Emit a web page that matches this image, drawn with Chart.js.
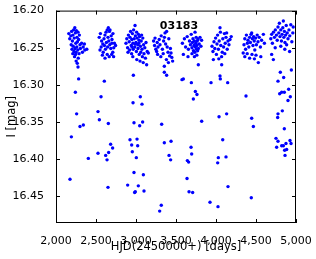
<!DOCTYPE html>
<html lang="en">
<head>
    <meta charset="UTF-8">
    <title>03183 light curve</title>
    <script src="https://cdn.jsdelivr.net/npm/chart.js"></script>
    <style>
        body { margin: 0; background: #fff; }
        #wrap { width: 316px; height: 259px; }
    </style>
</head>
<body>
    <div id="wrap"><canvas id="lc" width="316" height="259"></canvas></div>

    <script>
        const starName = '03183';

        // HJD - 2450000 [days]
        const hjd = [
            // season 1
            2160, 2172, 2185, 2195, 2205, 2212, 2220, 2228, 2235, 2242, 2248, 2255, 2262, 2268, 2275, 2283, 2292, 2300,
            2190, 2200, 2215, 2225, 2238, 2250, 2260, 2272, 2288, 2305, 2320, 2340, 2360, 2385, 2210, 2232, 2245, 2278,
            2252, 2266, 2275, 2330, 2355,
            // season 2
            2540, 2555, 2570, 2585, 2600, 2612, 2625, 2640, 2654, 2668, 2675, 2690, 2700, 2712, 2730, 2745,
            2550, 2565, 2590, 2605, 2618, 2630, 2645, 2660, 2672, 2685, 2698, 2710, 2722, 2613, 2640, 2665, 2696, 2720,
            2580, 2650,
            // season 3
            2875, 2885, 2895, 2905, 2915, 2925, 2932, 2940, 2948, 2955, 2962, 2970, 2978, 2988, 2992, 3000, 3008, 3015,
            3022, 3030, 3038, 3045, 3055, 3065, 3075, 3085, 3095, 3110, 3125, 3140, 3154, 2900, 2920, 2945, 2965, 2985,
            3005, 3025, 3040, 3060, 3080, 3100, 3118, 3133, 2960, 3010, 3050, 3090, 2990, 3035, 2950, 3070,
            // season 4
            3220, 3232, 3238, 3248, 3258, 3265, 3275, 3290, 3300, 3315, 3330, 3345, 3355, 3363, 3370, 3383, 3390, 3400,
            3410, 3420, 3430, 3438, 3448, 3458, 3270, 3310, 3340, 3354, 3380, 3405,
            // season 5
            3580, 3592, 3605, 3620, 3640, 3655, 3668, 3680, 3690, 3700, 3705, 3712, 3718, 3725, 3730, 3735, 3738, 3742,
            3748, 3752, 3755, 3760, 3765, 3770, 3775, 3780, 3790, 3800, 3812, 3820, 3779, 3730, 3700, 3760, 3650,
            // season 6
            3950, 3962, 3967, 3975, 3985, 3995, 4005, 4012, 4020, 4030, 4040, 4050, 4055, 4060, 4071, 4078, 4085, 4095,
            4105, 4115, 4125, 4133, 4140, 4150, 4162, 4175, 4190, 4070, 4035, 4110,
            // season 7
            4340, 4350, 4360, 4370, 4380, 4392, 4400, 4410, 4420, 4430, 4438, 4446, 4455, 4462, 4470, 4478, 4485, 4495,
            4505, 4515, 4525, 4540, 4555, 4570, 4592, 4605, 4360, 4390, 4420, 4450, 4480, 4529, 4560, 4500,
            // season 8
            4685, 4696, 4705, 4718, 4730, 4742, 4755, 4765, 4775, 4785, 4792, 4800, 4810, 4818, 4826, 4835, 4842, 4848,
            4855, 4862, 4870, 4878, 4883, 4890, 4900, 4912, 4922, 4935, 4948, 4960, 4696, 4717, 4860, 4920, 4740, 4810,
            4965,
            // faint points
            2283, 2604, 2967, 3354, 3383, 2242, 2563, 3054, 2963, 3075, 2258, 2525, 2542, 2654, 2342, 2300, 2975, 3083,
            3046, 3321, 2192, 2925, 3013, 2683, 2946, 3021, 2708, 3354, 3438, 2658, 2954, 2621, 2525, 2404, 3004, 2638,
            3413, 3433, 2175, 2975, 3092, 2650, 2896, 3029, 3100, 2991, 2983, 3316, 3296,
            3575, 3592, 3692, 3938, 4050, 4054, 4146, 4804, 4846, 4775, 4942, 3742, 3762, 3717, 4375, 4796, 4821, 4854,
            4908, 4929, 4900, 4038, 4133, 3821, 4446, 4467, 4829, 4775, 4771, 4854, 4084, 3688, 3696, 4750, 4775, 4758,
            4821, 4842, 4875, 4925, 4938, 4858, 4883, 4863, 3642, 3658, 4029, 4125, 4021, 3638, 4150, 3663, 3708, 4441,
            3925, 4025
        ];

        // I magnitude
        const imag = [
            // season 1
            16.231, 16.238, 16.234, 16.228, 16.241, 16.233, 16.226, 16.237, 16.223, 16.230, 16.244, 16.227, 16.236, 16.242, 16.229, 16.239, 16.233, 16.246,
            16.246, 16.252, 16.248, 16.255, 16.251, 16.256, 16.249, 16.253, 16.258, 16.251, 16.244, 16.249, 16.253, 16.252, 16.258, 16.262, 16.259, 16.264,
            16.268, 16.271, 16.276, 16.256, 16.245,
            // season 2
            16.236, 16.231, 16.241, 16.245, 16.238, 16.233, 16.229, 16.226, 16.223, 16.228, 16.226, 16.234, 16.239, 16.231, 16.244, 16.247,
            16.253, 16.249, 16.256, 16.247, 16.252, 16.243, 16.249, 16.241, 16.246, 16.251, 16.244, 16.256, 16.250, 16.264, 16.259, 16.262, 16.259, 16.262,
            16.260, 16.236,
            // season 3
            16.244, 16.238, 16.250, 16.233, 16.242, 16.236, 16.228, 16.247, 16.239, 16.231, 16.244, 16.226, 16.238, 16.220, 16.234, 16.243, 16.229, 16.237,
            16.246, 16.232, 16.240, 16.235, 16.248, 16.241, 16.252, 16.237, 16.246, 16.250, 16.243, 16.255, 16.257, 16.256, 16.253, 16.258, 16.252, 16.249,
            16.255, 16.251, 16.259, 16.256, 16.262, 16.258, 16.264, 16.273, 16.262, 16.266, 16.268, 16.270, 16.245, 16.244, 16.249, 16.233,
            // season 4
            16.241, 16.247, 16.237, 16.252, 16.255, 16.243, 16.249, 16.239, 16.246, 16.234, 16.252, 16.241, 16.236, 16.230, 16.245, 16.228, 16.249, 16.256,
            16.238, 16.261, 16.251, 16.257, 16.263, 16.268, 16.259, 16.262, 16.258, 16.275, 16.266, 16.270,
            // season 5
            16.244, 16.259, 16.238, 16.249, 16.235, 16.252, 16.241, 16.246, 16.232, 16.250, 16.243, 16.238, 16.254, 16.247, 16.241, 16.256, 16.229, 16.249,
            16.244, 16.236, 16.252, 16.247, 16.241, 16.254, 16.239, 16.251, 16.245, 16.236, 16.248, 16.240, 16.273, 16.262, 16.258, 16.260, 16.262,
            // season 6
            16.248, 16.255, 16.266, 16.242, 16.251, 16.237, 16.259, 16.245, 16.233, 16.252, 16.241, 16.223, 16.229, 16.247, 16.273, 16.256, 16.238, 16.249,
            16.231, 16.244, 16.236, 16.230, 16.252, 16.241, 16.246, 16.239, 16.235, 16.262, 16.265, 16.258,
            // season 7
            16.257, 16.246, 16.238, 16.252, 16.233, 16.244, 16.240, 16.249, 16.236, 16.243, 16.232, 16.230, 16.238, 16.247, 16.235, 16.241, 16.253, 16.237,
            16.246, 16.233, 16.242, 16.236, 16.249, 16.240, 16.232, 16.244, 16.262, 16.258, 16.264, 16.259, 16.265, 16.270, 16.262, 16.260,
            // season 8
            16.238, 16.232, 16.244, 16.229, 16.236, 16.226, 16.233, 16.240, 16.222, 16.230, 16.217, 16.235, 16.226, 16.241, 16.232, 16.223, 16.214, 16.236,
            16.228, 16.243, 16.233, 16.220, 16.246, 16.230, 16.238, 16.226, 16.234, 16.219, 16.242, 16.230, 16.259, 16.266, 16.252, 16.255, 16.250, 16.248,
            16.222,
            // faint points
            16.292, 16.295, 16.287, 16.283, 16.287, 16.310, 16.316, 16.316, 16.324, 16.326, 16.339, 16.336, 16.347, 16.352, 16.354, 16.356, 16.351, 16.350,
            16.355, 16.353, 16.370, 16.374, 16.373, 16.380, 16.381, 16.382, 16.385, 16.378, 16.376, 16.391, 16.390, 16.395, 16.392, 16.399, 16.398, 16.401,
            16.395, 16.401, 16.427, 16.418, 16.421, 16.438, 16.435, 16.436, 16.443, 16.444, 16.445, 16.462, 16.470,
            16.293, 16.292, 16.297, 16.297, 16.288, 16.292, 16.297, 16.283, 16.290, 16.295, 16.280, 16.309, 16.313, 16.319, 16.315, 16.312, 16.310, 16.310,
            16.306, 16.316, 16.321, 16.343, 16.339, 16.349, 16.345, 16.356, 16.335, 16.339, 16.344, 16.359, 16.374, 16.384, 16.393, 16.372, 16.376, 16.384,
            16.382, 16.382, 16.379, 16.375, 16.379, 16.388, 16.387, 16.395, 16.402, 16.404, 16.398, 16.397, 16.405, 16.426, 16.437, 16.444, 16.445, 16.452,
            16.458, 16.464
        ];

        const xTicks = [2000, 2500, 3000, 3500, 4000, 4500, 5000];
        const yTicks = [16.20, 16.25, 16.30, 16.35, 16.40, 16.45];

        Chart.defaults.font.family = '"DejaVu Sans", sans-serif';
        Chart.defaults.font.size = 11;
        Chart.defaults.color = '#000';

        // box around the plot + inward ticks on all sides + star id
        const framePlugin = {
            id: 'frame',
            afterDatasetsDraw(chart) {
                const { ctx, chartArea: a, scales: { x, y } } = chart;
                ctx.save();
                ctx.strokeStyle = '#000';
                ctx.lineWidth = 1;
                ctx.strokeRect(a.left + 0.5, a.top + 0.5, a.right - a.left - 1, a.bottom - a.top - 1);
                ctx.beginPath();
                xTicks.forEach(v => {
                    const px = Math.round(x.getPixelForValue(v)) + 0.5;
                    ctx.moveTo(px, a.bottom); ctx.lineTo(px, a.bottom - 4);
                    ctx.moveTo(px, a.top); ctx.lineTo(px, a.top + 4);
                });
                yTicks.forEach(v => {
                    const py = Math.round(y.getPixelForValue(v)) + 0.5;
                    ctx.moveTo(a.left, py); ctx.lineTo(a.left + 4, py);
                    ctx.moveTo(a.right, py); ctx.lineTo(a.right - 4, py);
                });
                ctx.stroke();
                ctx.fillStyle = '#000';
                ctx.font = 'bold 11px "DejaVu Sans", sans-serif';
                ctx.textAlign = 'center';
                ctx.textBaseline = 'middle';
                ctx.fillText(starName, (a.left + a.right) / 2 + 3, a.top + 16);
                ctx.restore();
            }
        };

        new Chart(document.getElementById('lc'), {
            type: 'scatter',
            data: {
                datasets: [{
                    data: hjd.map((t, i) => ({ x: t, y: imag[i] })),
                    backgroundColor: '#0000ff',
                    borderWidth: 0,
                    pointRadius: 1.7
                }]
            },
            options: {
                responsive: false,
                animation: false,
                layout: { padding: { left: 0, right: 20, top: 10, bottom: 0 } },
                plugins: { legend: { display: false }, tooltip: { enabled: false } },
                scales: {
                    x: {
                        type: 'linear',
                        min: 2000,
                        max: 5000,
                        grid: { display: false },
                        border: { display: false },
                        afterBuildTicks: s => { s.ticks = xTicks.map(v => ({ value: v })); },
                        afterFit: s => { s.height = 36; },
                        ticks: { padding: 4, maxRotation: 0, autoSkip: false },
                        title: { display: true, text: 'HJD(2450000+) [days]', font: { size: 11.5 }, padding: { top: 0, bottom: 5 } }
                    },
                    y: {
                        type: 'linear',
                        reverse: true,
                        min: 16.20,
                        max: 16.486,
                        grid: { display: false },
                        border: { display: false },
                        afterBuildTicks: s => { s.ticks = yTicks.map(v => ({ value: v })); },
                        afterFit: s => { s.width = 56; },
                        ticks: { padding: 4, autoSkip: false, callback: v => v.toFixed(2) },
                        title: { display: true, text: 'I [mag]', font: { size: 11.5 }, padding: { top: 5, bottom: 0 } }
                    }
                }
            },
            plugins: [framePlugin]
        });
    </script>
</body>
</html>
